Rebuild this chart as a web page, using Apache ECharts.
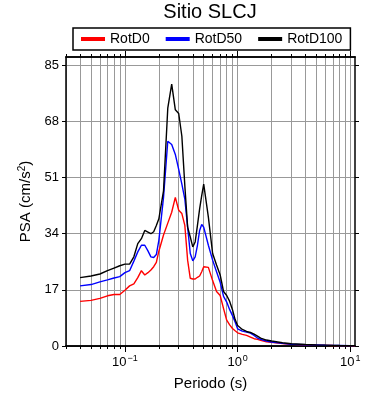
<!DOCTYPE html>
<html>
<head>
<meta charset="utf-8">
<script src="https://cdn.jsdelivr.net/npm/echarts@6/dist/echarts.min.js"></script>
<style>
  html, body { margin: 0; padding: 0; background: #fff; }
  #chart { width: 390px; height: 400px; }
</style>
</head>
<body>
<div id="chart"></div>
<script>
// periodos (s) y PSA (cm/s2)
var periods = [0.04, 0.05, 0.06, 0.07, 0.08, 0.09, 0.10, 0.11, 0.12, 0.13, 0.14, 0.15, 0.16, 0.17, 0.18, 0.19, 0.20,
  0.22, 0.24, 0.26, 0.28, 0.30, 0.32, 0.34, 0.36, 0.38, 0.40, 0.42, 0.44, 0.46, 0.48, 0.50,
  0.55, 0.60, 0.65, 0.70, 0.75, 0.80, 0.85, 0.90, 0.95,
  1.0, 1.1, 1.2, 1.3, 1.4, 1.5, 1.6, 1.8, 2.0, 2.5, 3.0, 4.0, 5.0, 6.0, 7.0, 8.0, 10.0, 11.0];

var rotD0 = [13.5, 13.8, 14.4, 15.2, 15.6, 15.6, 16.9, 18.2, 18.8, 20.7, 22.8, 21.5, 22.2, 23.0, 24.0, 25.3, 28.7,
  33.6, 37.2, 40.5, 45.0, 41.1, 40.1, 36.5, 26.0, 20.5, 20.3, 20.3, 20.8, 21.2, 22.5, 24.0,
  23.8, 19.8, 16.5, 15.3, 11.3, 7.8, 6.4, 5.3, 4.6,
  4.0, 3.5, 3.2, 2.7, 2.2, 2.0, 1.7, 1.3, 1.1, 0.75, 0.5, 0.35, 0.25, 0.2, 0.15, 0.12, 0.1, 0.08];

var rotD50 = [18.2, 18.6, 19.4, 20.0, 20.6, 21.0, 22.2, 22.8, 25.7, 28.5, 30.5, 30.5, 28.8, 27.0, 26.8, 27.7, 32.0,
  45.0, 62.0, 61.0, 58.0, 53.5, 49.0, 44.5, 36.0, 28.0, 25.8, 27.0, 30.5, 35.0, 36.8, 36.0,
  30.5, 26.0, 22.5, 19.3, 15.0, 13.3, 11.0, 9.2, 7.3,
  5.2, 4.5, 4.2, 3.9, 3.2, 2.4, 2.0, 1.5, 1.2, 0.8, 0.55, 0.4, 0.3, 0.22, 0.18, 0.15, 0.1, 0.1];

var rotD100 = [20.7, 21.2, 21.8, 22.8, 23.6, 24.3, 24.8, 24.8, 27.0, 31.0, 32.5, 35.0, 34.5, 34.0, 34.6, 36.5, 38.5,
  47.0, 72.0, 79.3, 71.5, 70.4, 63.5, 48.5, 36.0, 33.0, 30.0, 31.5, 36.5, 41.5, 45.5, 49.0,
  39.0, 28.0, 24.5, 21.5, 16.5, 15.3, 13.5, 11.0, 8.0,
  6.2, 5.0, 4.4, 4.1, 3.6, 3.0, 2.4, 1.8, 1.5, 1.0, 0.7, 0.45, 0.3, 0.25, 0.2, 0.15, 0.1, 0.1];

var minorTicks = [0.03, 0.04, 0.05, 0.06, 0.07, 0.08, 0.09,
  0.1, 0.2, 0.3, 0.4, 0.5, 0.6, 0.7, 0.8, 0.9,
  1, 2, 3, 4, 5, 6, 7, 8, 9, 10];
var majorTicks = [0.1, 1, 10];
var yTicks = [0, 17, 34, 51, 68, 85];

var font = 'Liberation Sans';

function xAxisCfg(pos, ticks, len, grid, labels) {
  return {
    type: 'log',
    position: pos,
    min: 0.03,
    max: 11,
    axisLine: { show: true, lineStyle: { color: '#000', width: 1.5 } },
    axisTick: { show: true, inside: false, length: len, customValues: ticks, lineStyle: { color: '#000', width: 1 } },
    splitLine: { show: grid, lineStyle: { color: '#999', width: 1 } },
    minorTick: { show: false },
    axisLabel: labels ? {
      show: true,
      customValues: majorTicks,
      margin: 8,
      color: '#000',
      fontFamily: font,
      fontSize: 13,
      formatter: function (v) {
        var e = Math.round(Math.log10(v));
        return '10{s|' + (e < 0 ? '\u2212' + (-e) : e) + '}';
      },
      rich: { s: { fontSize: 9, fontFamily: font, color: '#000', padding: [0, 0, 8, 1] } }
    } : { show: false }
  };
}

function yAxisCfg(pos, labels) {
  return {
    type: 'value',
    position: pos,
    min: 0,
    max: 87.5,
    axisLine: { show: true, lineStyle: { color: '#000', width: 1.5 } },
    axisTick: { show: true, inside: false, length: 4, customValues: yTicks, lineStyle: { color: '#000', width: 1 } },
    splitLine: { show: labels, lineStyle: { color: '#999', width: 1 } },
    axisLabel: labels ? { show: true, customValues: yTicks, margin: 7, color: '#000', fontFamily: font, fontSize: 13 } : { show: false }
  };
}

function makeSeries(name, values, color) {
  return {
    name: name,
    type: 'line',
    xAxisIndex: 0,
    yAxisIndex: 0,
    data: periods.map(function (p, i) { return [p, values[i]]; }),
    showSymbol: false,
    symbol: 'none',
    lineStyle: { color: color, width: 1.4 },
    itemStyle: { color: color }
  };
}

var xBottom = xAxisCfg('bottom', minorTicks, 3, true, true);
xBottom.name = 'Periodo (s)';
xBottom.nameLocation = 'middle';
xBottom.nameGap = 30;
xBottom.nameTextStyle = { color: '#000', fontFamily: font, fontSize: 15 };

var yLeft = yAxisCfg('left', true);
yLeft.name = 'PSA (cm/s{s|2})';
yLeft.nameLocation = 'middle';
yLeft.nameGap = 27;
yLeft.nameTextStyle = {
  color: '#000', fontFamily: font, fontSize: 15,
  rich: { s: { fontSize: 10, fontFamily: font, color: '#000', padding: [0, 0, 8, 0] } }
};

var option = {
  animation: false,
  backgroundColor: '#fff',
  title: {
    text: 'Sitio SLCJ',
    left: 210,
    top: 2,
    padding: 0,
    textAlign: 'center',
    textStyle: { color: '#000', fontFamily: font, fontSize: 20, fontWeight: 'normal' }
  },
  legend: {
    left: 73,
    top: 28,
    padding: [4, 8],
    borderColor: '#000',
    borderWidth: 1.5,
    itemGap: 16,
    itemWidth: 24,
    itemHeight: 4,
    icon: 'rect',
    textStyle: { color: '#000', fontFamily: font, fontSize: 14 },
    data: ['RotD0', 'RotD50', 'RotD100']
  },
  grid: { left: 66, right: 35, top: 57, bottom: 54, containLabel: false, outerBoundsMode: 'none' },
  xAxis: [
    xBottom,
    xAxisCfg('bottom', majorTicks, 6, false, false),
    xAxisCfg('top', minorTicks, 3, false, false),
    xAxisCfg('top', majorTicks, 6, false, false)
  ],
  yAxis: [yLeft, yAxisCfg('right', false)],
  series: [
    makeSeries('RotD0', rotD0, '#ff0000'),
    makeSeries('RotD50', rotD50, '#0000ff'),
    makeSeries('RotD100', rotD100, '#000000')
  ]
};

var chart = echarts.init(document.getElementById('chart'));
chart.setOption(option);
</script>
</body>
</html>
